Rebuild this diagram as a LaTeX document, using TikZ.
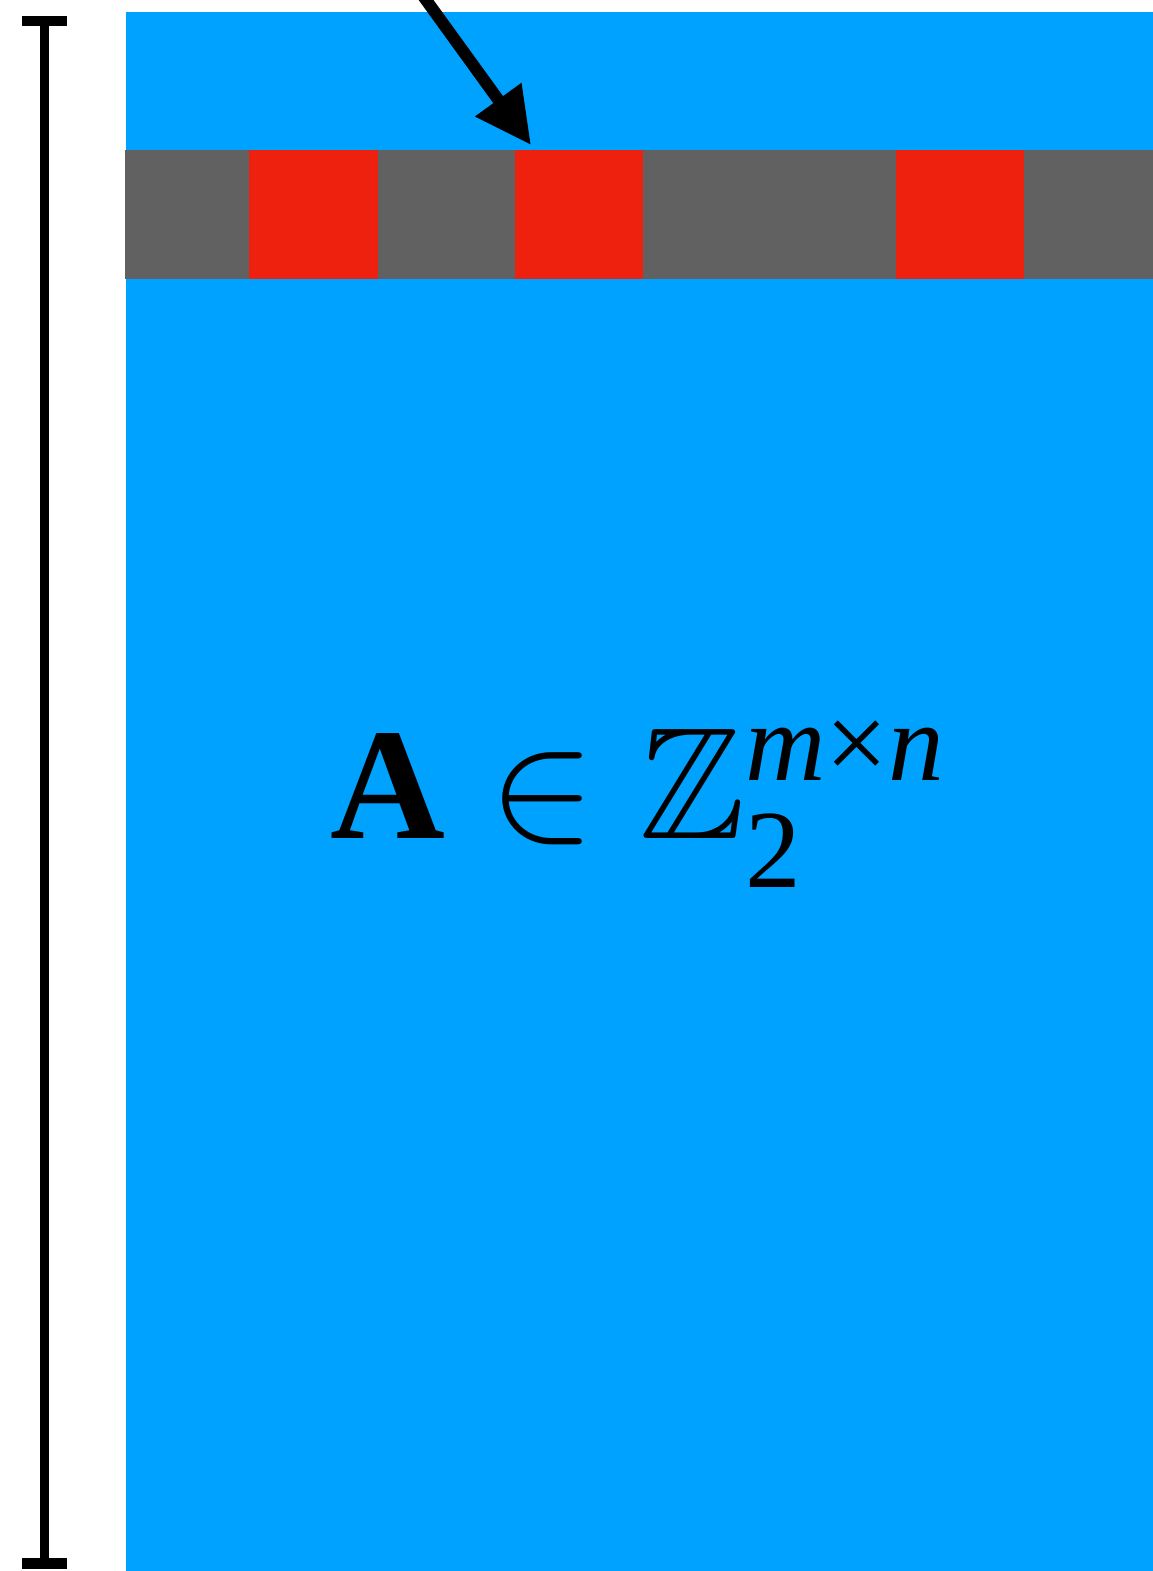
\documentclass[tikz,border=0pt]{standalone}
\usepackage{amsmath,amssymb}
\usepackage{graphicx}
\usepackage{fontspec}
\setmainfont{Liberation Serif}
\usetikzlibrary{arrows.meta}
\definecolor{matblue}{RGB}{0,162,255}
\definecolor{cellgray}{RGB}{97,97,97}
\definecolor{cellred}{RGB}{238,33,14}
\begin{document}
\begin{tikzpicture}[x=1pt,y=-1pt,
  cell/.style={draw=none,minimum height=129pt,inner sep=0pt,outer sep=0pt,anchor=north west},
  graycell/.style={cell,fill=cellgray},
  redcell/.style={cell,fill=cellred},
  barline/.style={line width=9pt,black}]
\clip (0,0) rectangle (1153,1571);
\fill[white] (0,0) rectangle (1153,1571);
% matrix
\fill[matblue] (126,12) rectangle (1153,1571);
% row cells
\node[graycell,minimum width=124pt] (g1) at (125,150) {};
\node[redcell,minimum width=129pt] (r1) at (249,150) {};
\node[graycell,minimum width=137pt] (g2) at (378,150) {};
\node[redcell,minimum width=128pt] (r2) at (515,150) {};
\node[graycell,minimum width=253pt] (g3) at (643,150) {};
\node[redcell,minimum width=128pt] (r3) at (896,150) {};
\node[graycell,minimum width=129pt] (g4) at (1024,150) {};
% arrow
\coordinate (astart) at (421,-7);
\coordinate (aend) at (531,145);
\draw[line width=12pt,-{Triangle[length=56pt,width=54pt]}] (astart) -- (aend);
% label
\node[inner sep=0pt,anchor=base west] (lbl) at (330,838)
  {\scalebox{15.9}{\fontsize{10}{12}\selectfont$\text{\bfseries A}\in\mathbb{Z}_{\text{\raisebox{-0.09em}{2}}}^{\textit{m}\text{×}\textit{n}}$}};
% left dimension bar
\coordinate (btop) at (44,21);
\coordinate (bbot) at (44,1563);
\draw[barline] (btop) -- (bbot);
\fill[black] (22,16) rectangle (67,26);
\fill[black] (22,1558) rectangle (67,1569);
\end{tikzpicture}
\end{document}
